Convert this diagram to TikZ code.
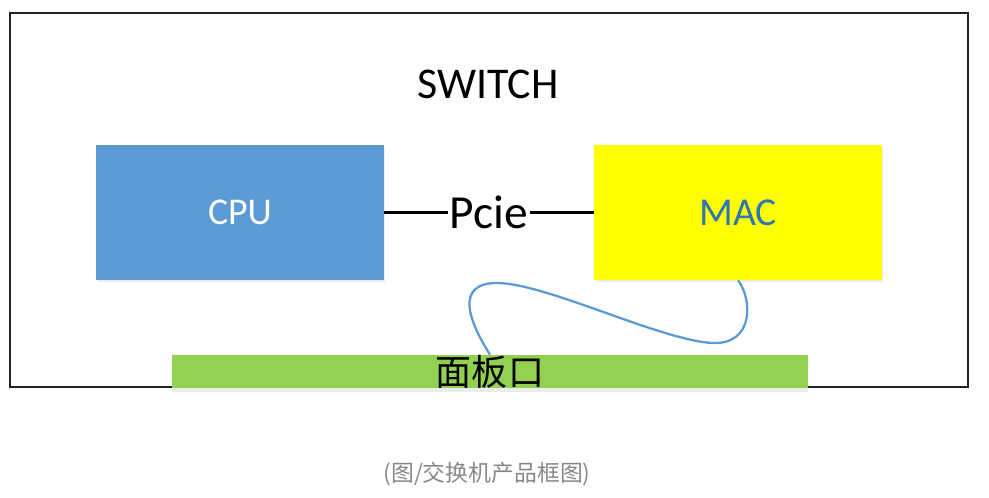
\documentclass[tikz,border=0pt]{standalone}
\usepackage{fontspec}
\setmainfont{Carlito}
\newfontfamily\cjk{Noto Sans CJK SC}
\usetikzlibrary{shadows}
\definecolor{cpublue}{RGB}{91,155,213}
\definecolor{macyellow}{RGB}{255,255,0}
\definecolor{macblue}{RGB}{46,117,182}
\definecolor{panelgreen}{RGB}{146,208,80}
\definecolor{frameink}{RGB}{34,34,34}
\definecolor{capgrey}{RGB}{136,136,136}
\tikzset{
  unit/.style={fill=#1,minimum width=5.76cm,minimum height=2.7cm,inner sep=0pt,
    font=\fontsize{21.5}{26}\selectfont,
    drop shadow={opacity=0.15,shadow xshift=0.03cm,shadow yshift=-0.05cm}},
  unit/.default=cpublue,
  frame/.style={draw=frameink,line width=1.3pt,minimum width=19.16cm,minimum height=7.48cm},
  panel/.style={fill=panelgreen,minimum width=12.72cm,minimum height=0.66cm,inner sep=0pt,
    drop shadow={opacity=0.15,shadow xshift=0cm,shadow yshift=-0.07cm}},
  bus/.style={draw=black,line width=1.5pt},
  cable/.style={draw=cpublue,line width=1.3pt},
}

\begin{document}
\begin{tikzpicture}[x=0.02cm,y=-0.02cm]
  \useasboundingbox (0,0) rectangle (989,497);
  \node[frame] (sw) at (489,200) {};
  \node[font=\fontsize{25}{30}\selectfont] (swlabel) at (488,84) {SWITCH};
  \node[unit=cpublue,text=white] (cpu) at (240,212.5) {CPU};
  \node[unit=macyellow,text=macblue,font=\fontsize{22.5}{27}\selectfont] (mac) at (738,212.5) {MAC};
  \draw[bus] (cpu) -- node[fill=white,inner sep=1pt,font=\fontsize{27}{32}\selectfont] (pcie) {Pcie} (mac);
  % front panel sits on the bottom edge of the frame
  \node[panel] (panel) at (490,371.5) {};
  \node[font=\cjk\fontsize{20.5}{24}\selectfont] (panellabel) at (490,372) {面板口};
  \draw[cable] (mac.south) .. controls (752,298) and (755,345) .. (712,343)
    .. controls (660,340) and (545,283) .. (497,283)
    .. controls (455,283) and (468,320) .. (panel.north);
  \node[font=\cjk\fontsize{13}{16}\selectfont,text=capgrey] (caption) at (487,474) {(图/交换机产品框图)};
\end{tikzpicture}
\end{document}
